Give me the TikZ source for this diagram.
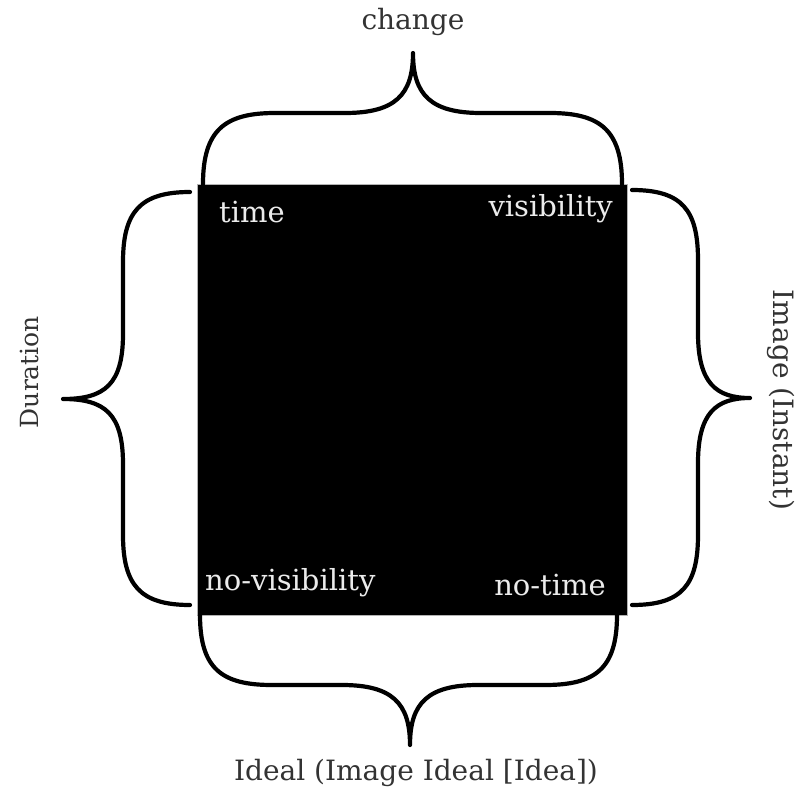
\documentclass[tikz,border=0pt]{standalone}
\usepackage{fontspec}
\setmainfont{DejaVu Serif}
\begin{document}
\begin{tikzpicture}[x=1pt,y=-1pt,
  brace/.style={line width=4.2pt, line cap=round, line join=round},
  outer/.style={font=\fontsize{28}{32}\selectfont\color{black!80}, inner sep=0pt},
  inner/.style={font=\fontsize{29}{32}\selectfont\color{white!92!black}, inner sep=0pt}]
\useasboundingbox (0,0) rectangle (804,795);
% central square
\fill[black] (197,184) rectangle (627,615);
\draw[white!70!black, line width=0.6pt] (197,184) rectangle (627,615);
% top brace
\draw[brace] (203,184) .. controls (203,130) and (225,113) .. (275,113) -- (345,113)
  .. controls (395,113) and (413,95) .. (413,53)
  .. controls (413,95) and (431,113) .. (481,113) -- (550,113)
  .. controls (600,113) and (622,130) .. (622,184);
% bottom brace
\draw[brace] (200,615) .. controls (200,669) and (222,685) .. (272,685) -- (342,685)
  .. controls (392,685) and (410,703) .. (410,745)
  .. controls (410,703) and (428,685) .. (478,685) -- (545,685)
  .. controls (595,685) and (617,669) .. (617,615);
% left brace
\draw[brace] (190,192) .. controls (140,192) and (123,212) .. (123,262) -- (123,334)
  .. controls (123,384) and (105,399) .. (63,399)
  .. controls (105,399) and (123,414) .. (123,464) -- (123,535)
  .. controls (123,585) and (140,605) .. (190,605);
% right brace
\draw[brace] (632,190) .. controls (682,190) and (698,210) .. (698,260) -- (698,333)
  .. controls (698,383) and (716,398) .. (750,398)
  .. controls (716,398) and (698,413) .. (698,463) -- (698,535)
  .. controls (698,585) and (682,605) .. (632,605);
% labels
\node[outer] (change) at (413,22) {change};
\node[outer] (ideal) at (416,773) {Ideal (Image Ideal [Idea])};
\node[outer, font=\fontsize{25}{28}\selectfont\color{black!80}, rotate=90] (duration) at (29,372) {Duration};
\node[outer, rotate=-90] (image) at (781,400) {Image (Instant)};
\node[inner, anchor=west] (time) at (219,212) {time};
\node[inner, anchor=east] (vis) at (613,209) {visibility};
\node[inner, anchor=west] (novis) at (205,583) {no-visibility};
\node[inner, anchor=east] (notime) at (606,585) {no-time};
\end{tikzpicture}
\end{document}
